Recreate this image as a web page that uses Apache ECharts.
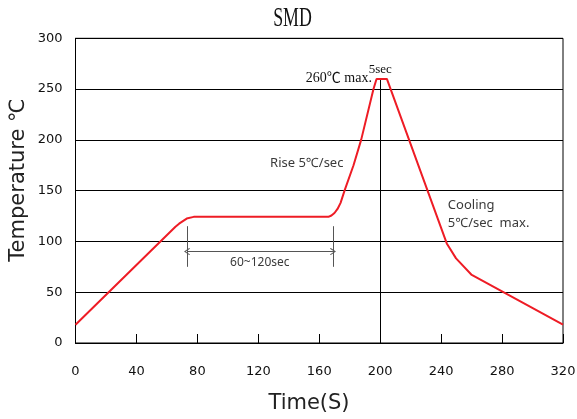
<!DOCTYPE html>
<html><head><meta charset="utf-8">
<script src="https://cdn.jsdelivr.net/npm/echarts@6/dist/echarts.min.js"></script>
<style>html,body{margin:0;padding:0;background:#fff}#c{width:577px;height:419px}</style>
</head><body><div id="c"></div>
<script>
// ---- data ----
const timeS = [0, 65.6, 68, 70, 73, 77.6, 166, 168, 170, 172, 174, 176.6, 182.5, 187.5, 195.6, 197.6, 204.4, 243.7, 249.8, 260.1, 320];
const tempC = [18, 114.5, 117.5, 119.5, 122.5, 124.2, 124.2, 125.5, 128, 132, 138, 150, 175, 200, 250, 260, 260, 98, 83.3, 67, 18];
const xTickLabels = ['0', '40', '80', '120', '160', '200', '240', '280', '320'];
const yTickLabels = ['0', '50', '100', '150', '200', '250', '300'];
const peakLine = [[200, 0], [200, 260]];           // vertical line at 200 s up to peak
const soakMarks = [[73.2, 75], [73.2, 115], [169, 75], [169, 115]];
const soakArrow = [[73.2, 90], [169, 90]];
const noteTexts = ['Rise 5℃/sec', 'Cooling', '5℃/sec  max.', '60~120sec', '260℃ max.', '5sec'];
const notePos = [[127.7, 177.3], [244.4, 135.7], [244.4, 117.7], [121, 79.4], [194.6, 260.4], [200, 269]];

const series = timeS.map((t, i) => [t, tempC[i]]);
const chevron = 'path://M5,0 L10,8 L9,9.2 L5,2.6 L1,9.2 L0,8 Z';
const gray = '#555';

const chart = echarts.init(document.getElementById('c'), null, {renderer: 'canvas'});
const option = {
  animation: false,
  backgroundColor: '#fff',
  grid: {left: 75.5, right: 14, top: 38.3, bottom: 76, show: true, borderColor: '#000', borderWidth: 1, outerBoundsMode: 'none'},
  xAxis: {
    type: 'value', min: 0, max: 320, interval: 40,
    axisLine: {show: true, lineStyle: {color: '#000', width: 1}},
    axisTick: {show: true, inside: true, length: 9, lineStyle: {color: '#000', width: 1}},
    splitLine: {show: false},
    axisLabel: {margin: 22, color: '#111', fontFamily: 'DejaVu Sans', fontSize: 13,
      formatter: (v) => xTickLabels[Math.round(v / 40)]}
  },
  yAxis: {
    type: 'value', min: 0, max: 300, interval: 50,
    axisLine: {show: true, lineStyle: {color: '#000', width: 1}},
    axisTick: {show: false},
    splitLine: {show: true, lineStyle: {color: '#000', width: 1}},
    axisLabel: {margin: 13, color: '#111', fontFamily: 'DejaVu Sans', fontSize: 13,
      formatter: (v) => yTickLabels[Math.round(v / 50)]}
  },
  graphic: [
    {type: 'text', x: 292.5, y: 19, scaleX: 0.66, silent: true,
      style: {text: 'SMD', font: '27px "Liberation Serif"', fill: '#111', align: 'center', verticalAlign: 'middle'}},
    {type: 'text', x: 309, y: 403.5, silent: true,
      style: {text: 'Time(S)', font: '21px "DejaVu Sans"', fill: '#222', align: 'center', verticalAlign: 'middle'}},
    {type: 'text', x: 18.5, y: 180, rotation: Math.PI / 2, silent: true,
      style: {text: 'Temperature ℃', font: '21px "DejaVu Sans"', fill: '#222', align: 'center', verticalAlign: 'middle'}}
  ],
  series: [{
    type: 'line', data: series, showSymbol: false, symbol: 'none', silent: true, z: 5,
    lineStyle: {color: '#ee1c25', width: 2},
    markLine: {
      silent: true, animation: false, symbol: 'none', label: {show: false},
      emphasis: {disabled: true},
      data: [
        [{coord: peakLine[0], lineStyle: {color: '#000', width: 1, type: 'solid'}}, {coord: peakLine[1]}],
        [{coord: soakMarks[0], lineStyle: {color: gray, width: 1, type: 'solid'}}, {coord: soakMarks[1]}],
        [{coord: soakMarks[2], lineStyle: {color: gray, width: 1, type: 'solid'}}, {coord: soakMarks[3]}],
        [{coord: soakArrow[0], symbol: chevron, symbolSize: [7, 6], lineStyle: {color: gray, width: 1, type: 'solid'}},
         {coord: soakArrow[1], symbol: chevron, symbolSize: [7, 6]}]
      ]
    }
  }]
};
chart.setOption(option);

const noteStyles = [
  {font: '13px "Noto Sans"', fill: '#3a3a3a', align: 'left'},
  {font: '13px "Noto Sans"', fill: '#3a3a3a', align: 'left'},
  {font: '13px "Noto Sans"', fill: '#3a3a3a', align: 'left'},
  {font: '12px "Noto Sans"', fill: '#3a3a3a', align: 'center'},
  {font: '14px "Liberation Serif", "Noto Sans CJK KR"', fill: '#111', align: 'right'},
  {font: '13px "Liberation Serif"', fill: '#111', align: 'center'}
];
const notes = noteTexts.map((txt, i) => {
  const p = chart.convertToPixel({gridIndex: 0}, notePos[i]);
  return {type: 'text', x: p[0], y: p[1], silent: true, z: 10,
    style: Object.assign({text: txt, verticalAlign: 'middle'}, noteStyles[i])};
});
chart.setOption({graphic: option.graphic.concat(notes)});
</script></body></html>
